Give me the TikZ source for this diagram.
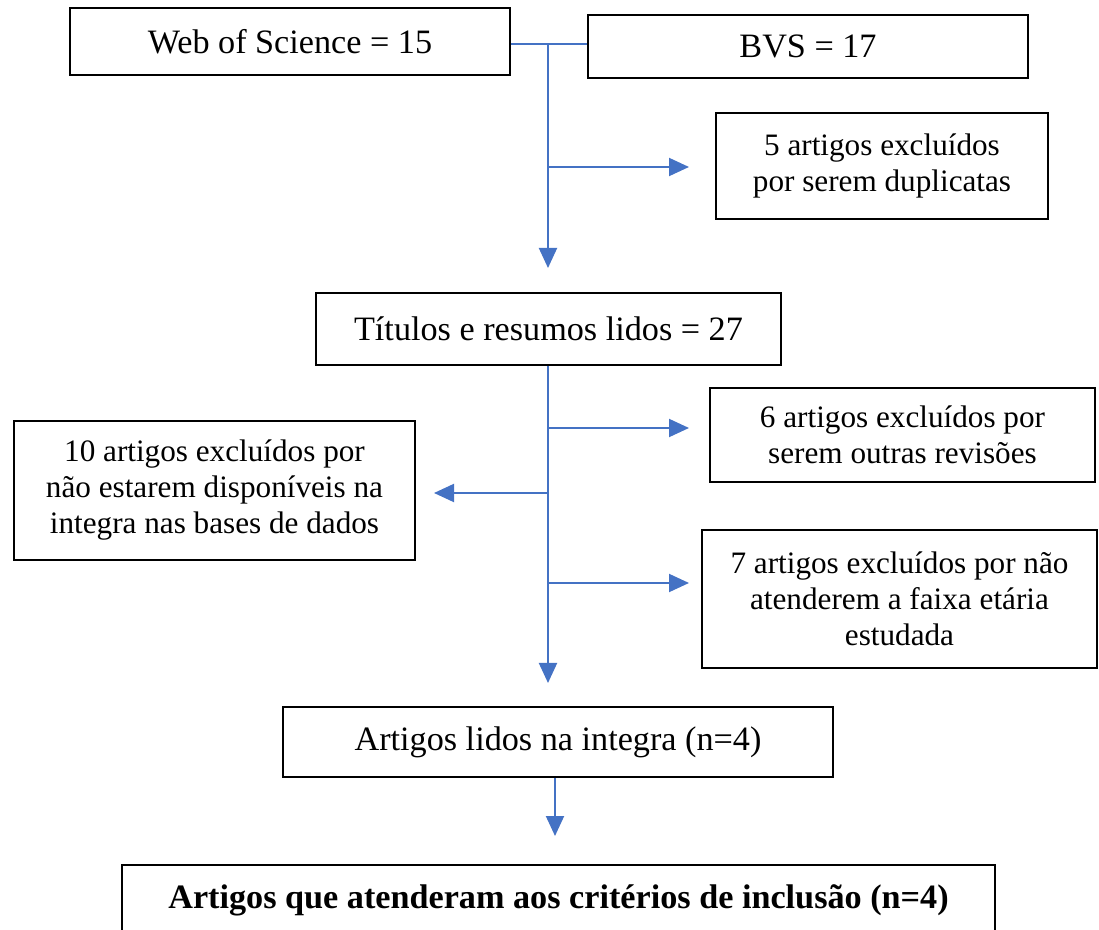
\documentclass[tikz,border=0pt]{standalone}
\usepackage{fontspec}
\setmainfont{Liberation Serif}
\usetikzlibrary{arrows.meta,positioning}
\definecolor{flowblue}{RGB}{68,114,196}

\begin{document}
\begin{tikzpicture}[x=0.5pt,y=-0.5pt,
  box/.style={draw,line width=1pt,rectangle,align=center,inner sep=2pt,font=\fontsize{15.6}{18}\selectfont},
  stepbox/.style={box,font=\fontsize{17.1}{19}\selectfont},
  link/.style={flowblue,line width=1pt},
  arr/.style={link,-{Triangle[length=10pt,width=9pt]}}
]
\clip (0,0) rectangle (1099,930);
\useasboundingbox (0,0) rectangle (1099,930);

% the databases
\node[stepbox,minimum width=220pt,minimum height=33.5pt] (wos) at (290,41.5) {Web of Science = 15};
\node[stepbox,minimum width=220pt,minimum height=31.5pt] (bvs) at (808,46.5) {BVS = 17};

% the excluded ones
\node[box,minimum width=166pt,minimum height=53pt] (dup) at (882,166) {5 artigos excluídos\\por serem duplicatas};
\node[box,minimum width=192.5pt,minimum height=47pt] (rev) at (902.5,435) {6 artigos excluídos por\\serem outras revisões};
\node[box,minimum width=200.5pt,minimum height=69.5pt] (disp) at (214.5,490.5) {10 artigos excluídos por\\não estarem disponíveis na\\integra nas bases de dados};
\node[box,minimum width=197.5pt,minimum height=69pt] (fai) at (899.5,599) {7 artigos excluídos por não\\atenderem a faixa etária\\estudada};

% the steps
\node[stepbox,minimum width=232.5pt,minimum height=36pt] (tit) at (548.5,329) {Títulos e resumos lidos = 27};
\node[stepbox,minimum width=275pt,minimum height=35pt] (lid) at (558,742) {Artigos lidos na integra (n=4)};
\node[stepbox,minimum width=436.5pt,minimum height=35pt] (inc) at (558.5,900) {\bfseries Artigos que atenderam aos critérios de inclusão (n=4)};

% the points on the lines
\coordinate (j1) at (548,44);
\coordinate (t1) at (548,268);
\coordinate (b1) at (548,167);
\coordinate (t2) at (548,683);
\coordinate (b2) at (548,428);
\coordinate (b3) at (548,493);
\coordinate (b4) at (548,583);
\coordinate (t3) at (555,836);

% the lines
\draw[link] (wos.east |- j1) -- (bvs.west |- j1);
\draw[arr] (j1) -- (t1);
\draw[arr] (b1) -- ([xshift=-13pt]dup.west |- b1);
\draw[arr] (tit.south -| t2) -- (t2);
\draw[arr] (b2) -- ([xshift=-10pt]rev.west |- b2);
\draw[arr] (b3) -- ([xshift=9pt]disp.east |- b3);
\draw[arr] (b4) -- ([xshift=-6pt]fai.west |- b4);
\draw[arr] (lid.south -| t3) -- (t3);
\end{tikzpicture}
\end{document}
